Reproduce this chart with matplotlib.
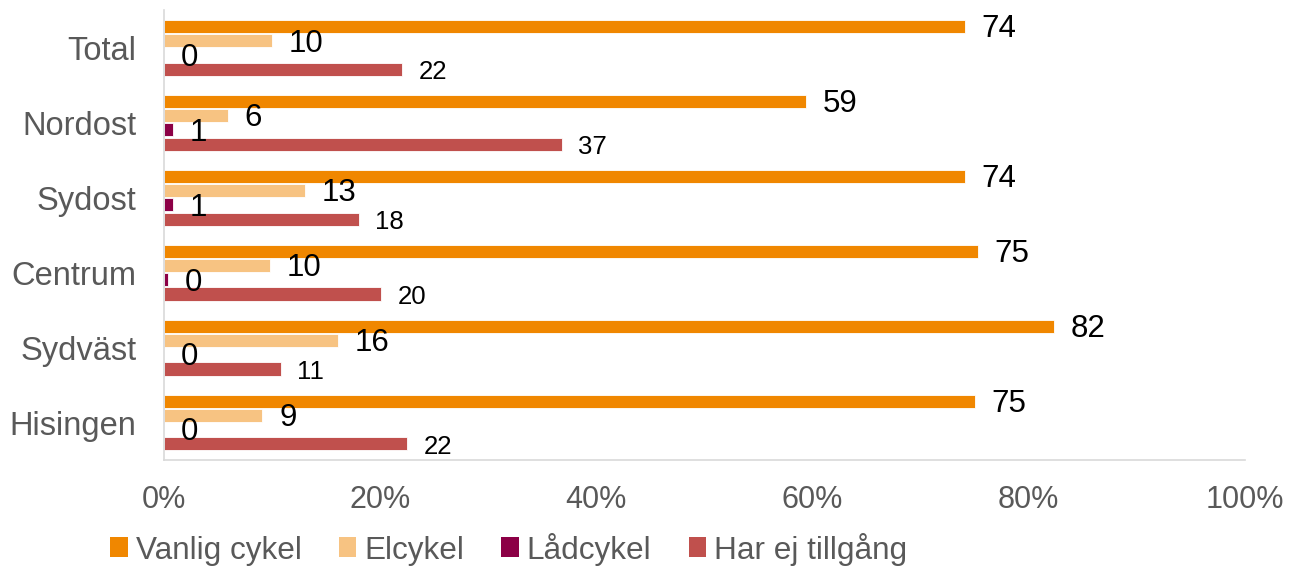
import matplotlib
matplotlib.use("Agg")
import matplotlib.pyplot as plt
from matplotlib.patches import Patch

plt.rcParams['font.family'] = ['Liberation Sans', 'DejaVu Sans']

categories = ["Total", "Nordost", "Sydost", "Centrum", "Sydväst", "Hisingen"]
series_names = ["Vanlig cykel", "Elcykel", "Lådcykel", "Har ej tillgång"]
vanlig = [74.1, 59.4, 74.1, 75.3, 82.3, 75.0]
elcykel = [10.0, 5.9, 13.0, 9.8, 16.1, 9.1]
ladcykel = [0.0, 0.8, 0.8, 0.4, 0.0, 0.0]
har_ej = [22.0, 36.8, 18.0, 20.1, 10.8, 22.5]
xticks = [0, 20, 40, 60, 80, 100]
xtick_labels = ["0%", "20%", "40%", "60%", "80%", "100%"]

colors = ['#F08700', '#F7C382', '#8C0046', '#C0504D']
label_sizes = [22.5, 22.5, 22.5, 18.5]
all_series = [vanlig, elcykel, ladcykel, har_ej]

fig = plt.figure(figsize=(12.91, 5.69), dpi=100)
ax = fig.add_axes([164/1291, (569-460)/569, 1081/1291, (460-10.4)/569])

slot = 0.19
h = 0.175
for j, (vals, c) in enumerate(zip(all_series, colors)):
    ys = [i + (j - 1.5) * slot for i in range(len(categories))]
    ax.barh(ys, vals, height=h, color=c, edgecolor='white', linewidth=0.6)
    for y, v in zip(ys, vals):
        ax.annotate(f"{round(v):d}", xy=(v, y), xytext=(12, -2), textcoords='offset points',
                    ha='left', va='center', fontsize=label_sizes[j], color='black')

ax.set_xlim(0, 100)
ax.set_ylim(len(categories) - 0.5, -0.5)
ax.set_yticks(range(len(categories)))
ax.set_yticklabels(categories, fontsize=23.5, color='#595959')
ax.set_xticks(xticks)
ax.set_xticklabels(xtick_labels, fontsize=22, color='#595959')
ax.tick_params(axis='y', length=0, pad=20)
ax.tick_params(axis='x', length=0, pad=18)
for s in ['top', 'right']:
    ax.spines[s].set_visible(False)
for s in ['left', 'bottom']:
    ax.spines[s].set_color('#d9d9d9')
    ax.spines[s].set_linewidth(1.2)

handles = [Patch(facecolor=c, edgecolor='none') for c in colors]
leg = fig.legend(handles, series_names, loc='center left',
                 bbox_to_anchor=(110/1291, (569-549)/569),
                 ncol=4, frameon=False, fontsize=22.7, handlelength=0.56, handleheight=0.6,
                 handletextpad=0.25, columnspacing=1.18, labelcolor='#595959',
                 borderpad=0, borderaxespad=0)

fig.savefig("out.png", dpi=100)
